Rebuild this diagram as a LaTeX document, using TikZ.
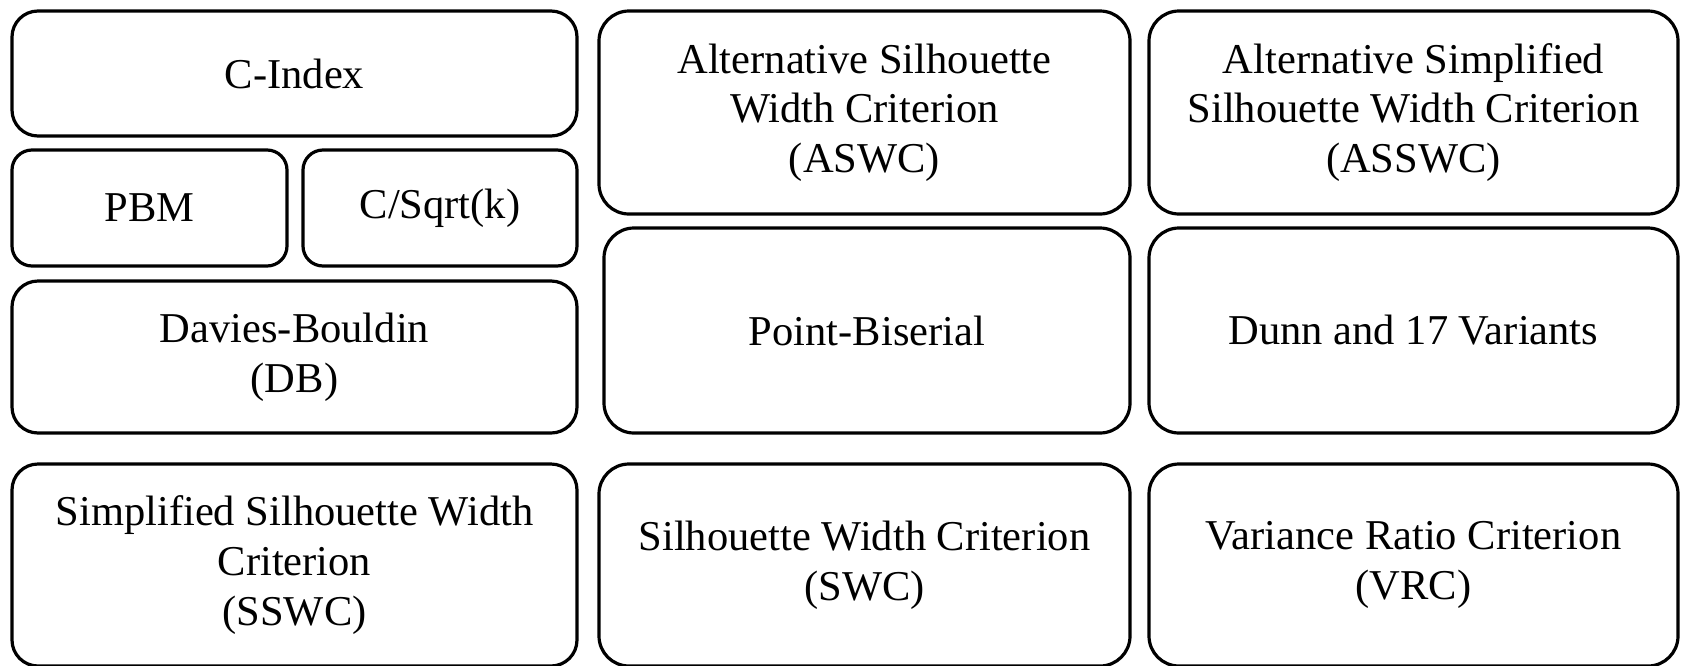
\documentclass[tikz,border=0pt]{standalone}
\usepackage{fontspec}
\setmainfont{Liberation Serif}
\begin{document}
\begin{tikzpicture}[x=1pt,y=-1pt,
  box/.style={draw=black, line width=3.2pt, rounded corners=26pt, rectangle,
    inner sep=0pt, align=center, font=\fontsize{42.5}{49.6}\selectfont},
  smallbox/.style={box, rounded corners=20pt}]
\useasboundingbox (0,0) rectangle (1684,665);
% left column
\node[box, minimum width=565pt, minimum height=125pt] (cindex) at (294.5,73.5) {C-Index};
\node[smallbox, minimum width=275pt, minimum height=116pt] (pbm) at (149.5,208) {PBM};
\node[smallbox, minimum width=274pt, minimum height=116pt] (csqrt) at (440,208) {C/Sqrt(k)};
\node[box, minimum width=565pt, minimum height=152pt] (db) at (294.5,357) {Davies-Bouldin\\(DB)};
\node[box, minimum width=565pt, minimum height=202pt] (sswc) at (294.5,565) {Simplified Silhouette Width\\Criterion\\(SSWC)};
% middle column
\node[box, rounded corners=30pt, minimum width=531pt, minimum height=203pt] (aswc) at (864.5,112.5) {Alternative Silhouette\\Width Criterion\\(ASWC)};
\node[box, rounded corners=30pt, minimum width=526pt, minimum height=205pt] (pb) at (867,330.5) {Point-Biserial};
\node[box, rounded corners=30pt, minimum width=531pt, minimum height=202pt] (swc) at (864.5,565) {Silhouette Width Criterion\\(SWC)};
% right column
\node[box, rounded corners=30pt, minimum width=529pt, minimum height=203pt] (asswc) at (1413.5,112.5) {Alternative Simplified\\Silhouette Width Criterion\\(ASSWC)};
\node[box, rounded corners=30pt, minimum width=529pt, minimum height=205pt] (dunn) at (1413.5,330.5) {Dunn and 17 Variants};
\node[box, rounded corners=30pt, minimum width=529pt, minimum height=202pt] (vrc) at (1413.5,565) {Variance Ratio Criterion\\(VRC)};
\end{tikzpicture}
\end{document}
